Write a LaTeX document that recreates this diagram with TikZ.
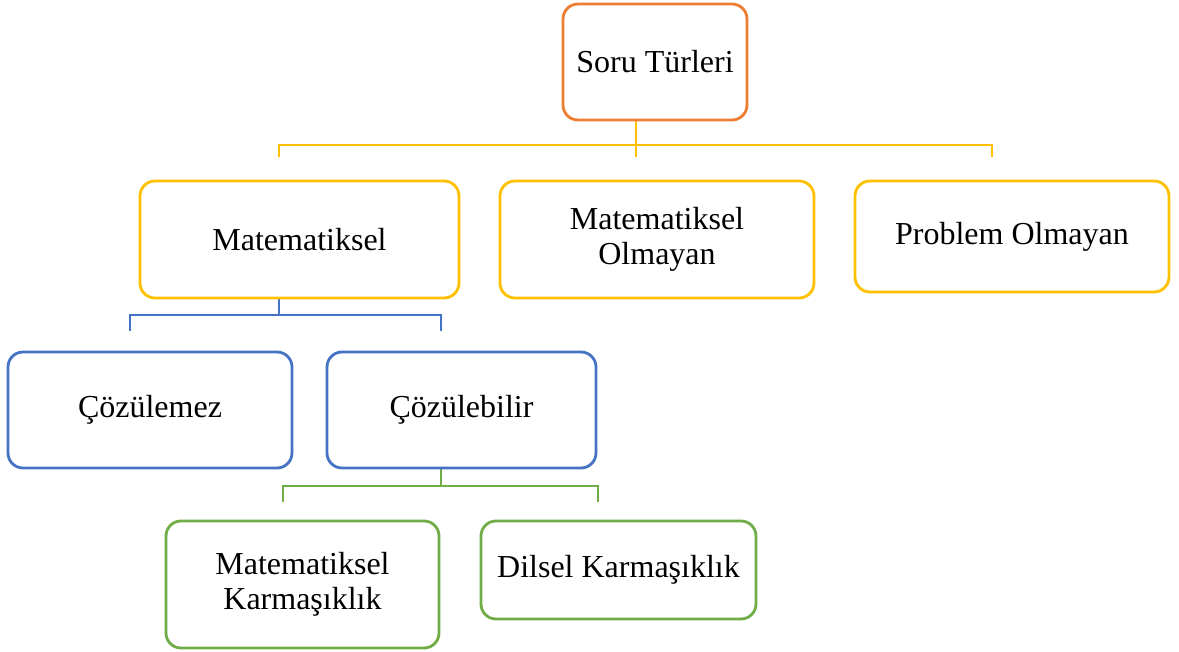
\documentclass[tikz,border=0pt]{standalone}
\usepackage{fontspec}
\setmainfont{Liberation Serif}
\definecolor{orangeb}{HTML}{ED7D31}
\definecolor{yellowb}{HTML}{FFC000}
\definecolor{blueb}{HTML}{4472C4}
\definecolor{greenb}{HTML}{70AD47}
\tikzset{
  box/.style={draw, line width=2.8pt, rounded corners=15pt, inner sep=0pt, fill=white,
    align=center, font=\fontsize{32}{35}\selectfont},
  conn/.style={line width=2.6pt}
}
\begin{document}
\begin{tikzpicture}[x=1pt,y=-1pt]
\useasboundingbox[fill=white] (0,0) rectangle (1179,652);
% connectors (drawn first)
\coordinate (t0) at (636,120);
\coordinate (t1) at (636,157);
\coordinate (tl) at (279,145);
\coordinate (tr) at (992,145);
\coordinate (tla) at (279,157);
\coordinate (tra) at (992,157);
\draw[conn, yellowb] (t0) -- (t1);
\draw[conn, yellowb] (tla) -- (tl) -- (tr) -- (tra);

\coordinate (m0) at (279,298);
\coordinate (mm) at (279,315);
\coordinate (ml) at (130,315);
\coordinate (mr) at (441,315);
\coordinate (mla) at (130,331);
\coordinate (mra) at (441,331);
\draw[conn, blueb] (m0) -- (mm);
\draw[conn, blueb] (mla) -- (ml) -- (mr) -- (mra);

\coordinate (c0) at (441,468);
\coordinate (cm) at (441,486);
\coordinate (cl) at (283,486);
\coordinate (cr) at (598,486);
\coordinate (cla) at (283,502);
\coordinate (cra) at (598,502);
\draw[conn, greenb] (c0) -- (cm);
\draw[conn, greenb] (cla) -- (cl) -- (cr) -- (cra);

% boxes
\node[box, draw=orangeb, minimum width=184pt, minimum height=116pt] (soru) at (655,62) {Soru Türleri};
\node[box, draw=yellowb, minimum width=319pt, minimum height=117pt] (mat) at (299.5,239.5) {Matematiksel};
\node[box, draw=yellowb, minimum width=314pt, minimum height=117pt] (matol) at (657,239.5) {Matematiksel\\Olmayan};
\node[box, draw=yellowb, minimum width=314pt, minimum height=111pt] (prob) at (1012,236.5) {Problem Olmayan};
\node[box, draw=blueb, minimum width=284pt, minimum height=116pt] (cozm) at (150,410) {Çözülemez};
\node[box, draw=blueb, minimum width=269pt, minimum height=116pt] (cozb) at (461.5,410) {Çözülebilir};
\node[box, draw=greenb, minimum width=273pt, minimum height=127pt] (matk) at (302.5,584.5) {Matematiksel\\Karmaşıklık};
\node[box, draw=greenb, minimum width=275pt, minimum height=98pt] (dil) at (618.5,570) {Dilsel Karmaşıklık};
\end{tikzpicture}
\end{document}
